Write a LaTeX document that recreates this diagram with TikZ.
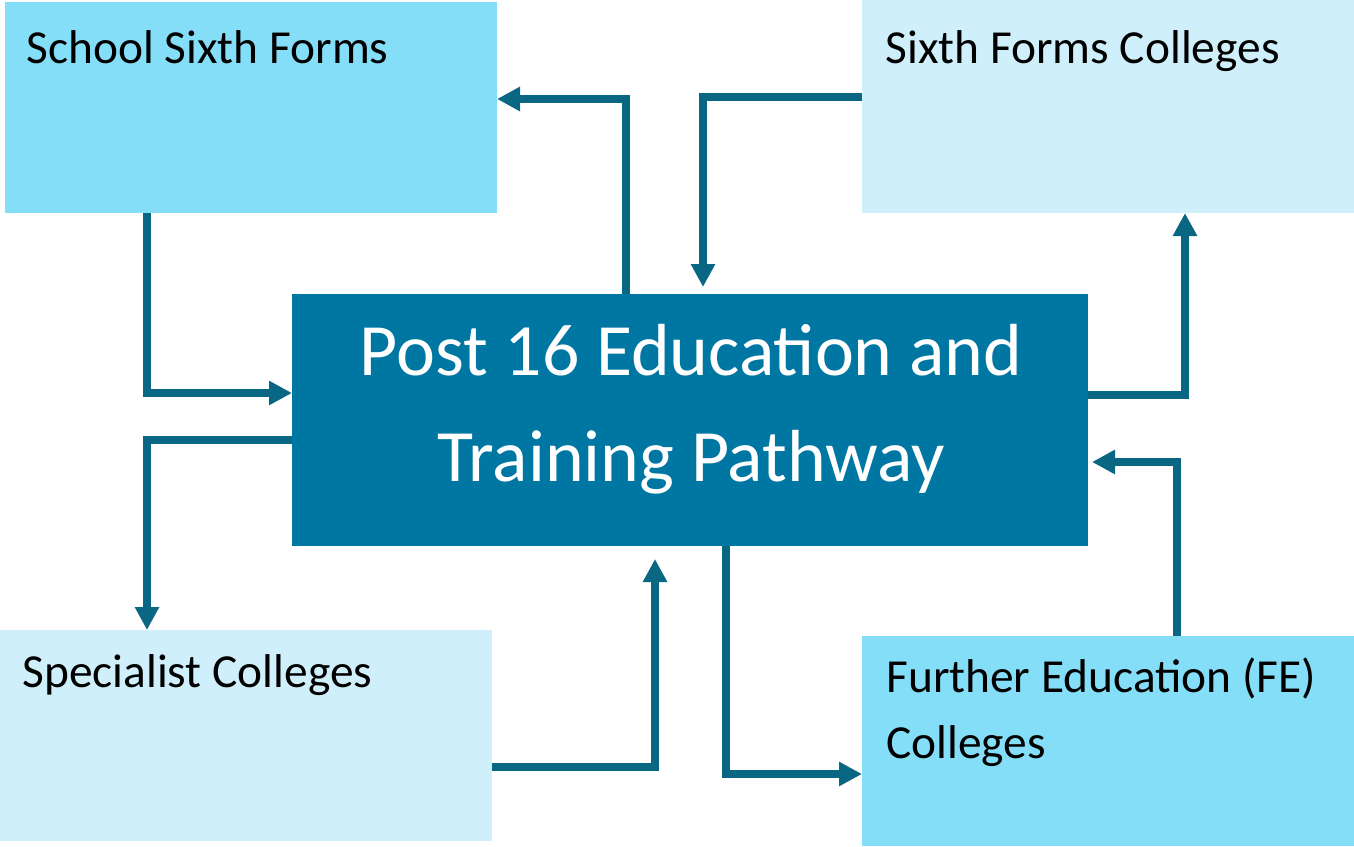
\documentclass[tikz,border=0pt]{standalone}
\usepackage{fontspec}
\setmainfont{Carlito}
\usepackage{xcolor}
\usepackage{tikz}
\usetikzlibrary{arrows.meta}

\definecolor{pale}{HTML}{CFF0FA}
\definecolor{sky}{HTML}{84DEF8}
\definecolor{hub}{HTML}{0077A3}
\definecolor{linkblue}{HTML}{0A6784}

\tikzset{
  box/.style={anchor=north west, inner sep=0pt, outer sep=0pt},
  boxtext/.style={anchor=base west, inner sep=0pt, align=left, font=\fontsize{23.7}{33}\selectfont},
  link/.style={draw=linkblue, line width=3.75pt, -{Triangle[length=11.5pt,width=11.5pt]}},
}

\begin{document}
\begin{tikzpicture}[x=0.5pt,y=-0.5pt]
\useasboundingbox (0,0) rectangle (1354,846);

\node[box, fill=sky,  minimum width=246pt, minimum height=105.5pt] (ssf) at (5,2) {};
\node[box, fill=pale, minimum width=246pt, minimum height=106.5pt] (sfc) at (862,0) {};
\node[box, fill=hub,  minimum width=398pt, minimum height=126pt]   (centre) at (292,294) {};
\node[box, fill=pale, minimum width=246pt, minimum height=105.5pt] (spc) at (0,630) {};
\node[box, fill=sky,  minimum width=246pt, minimum height=105pt]   (fec) at (862,636) {};

% base of a two-line label is its last line
\node[boxtext] (ssflabel) at (26,63) {School Sixth Forms};
\node[boxtext] (sfclabel) at (885,63) {Sixth Forms Colleges};
\node[boxtext] (spclabel) at (22,687) {Specialist Colleges};
\node[boxtext] (feclabel) at (886,758) {Further Education (FE)\\Colleges};

\node[text=white, align=center, font=\fontsize{36.9}{53}\selectfont] (centrelabel) at (691,409)
  {Post 16 Education and\\Training Pathway};

\draw[link] (centre.north -| 626,0) |- (ssf.east |- 0,99);
\draw[link, shorten >=3.5pt] (sfc.west |- 0,97) -| (centre.north -| 703,0);
\draw[link] (ssf.south -| 147,0) |- (centre.west |- 0,393);
\draw[link] (centre.west |- 0,440) -| (spc.north -| 147,0);
\draw[link, shorten >=6.5pt] (spc.east |- 0,767) -| (centre.south -| 655,0);
\draw[link] (centre.south -| 726,0) |- (fec.west |- 0,774);
\draw[link, shorten >=2pt] (fec.north -| 1177,0) |- (centre.east |- 0,462);
\draw[link] (centre.east |- 0,395) -| (sfc.south -| 1185,0);
\end{tikzpicture}
\end{document}
